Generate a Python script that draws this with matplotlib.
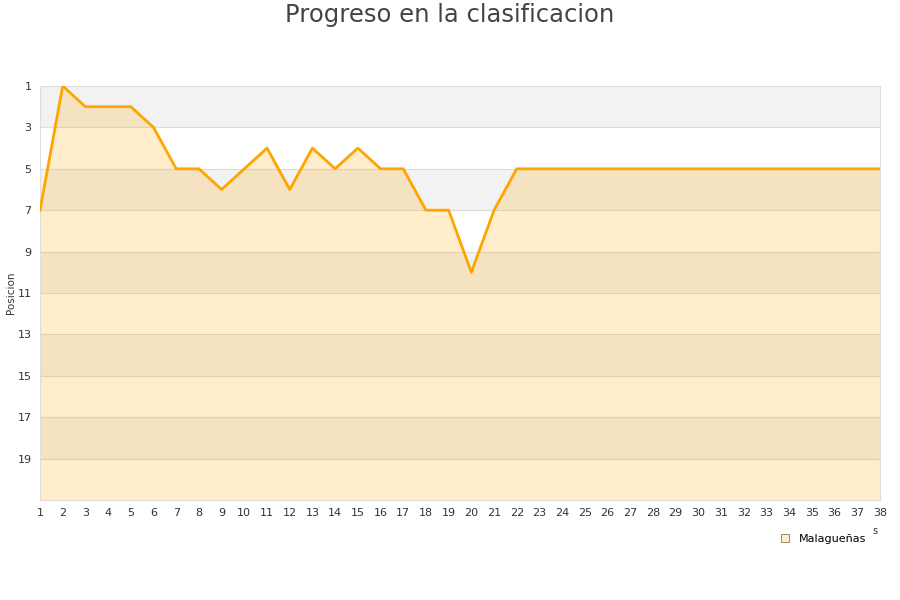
import matplotlib
matplotlib.use('Agg')
import matplotlib.pyplot as plt
from matplotlib.lines import Line2D

# Jornadas y posicion de Malaguenas
jornadas = list(range(1, 39))
posiciones = [7, 1, 2, 2, 2, 3, 5, 5, 6, 5, 4, 6, 4, 5, 4, 5, 5, 7, 7, 10,
              7, 5, 5, 5, 5, 5, 5, 5, 5, 5, 5, 5, 5, 5, 5, 5, 5, 5]
y_ticks = list(range(1, 21, 2))
equipo = 'Malagueñas'

fig = plt.figure(figsize=(9, 6), dpi=100)
ax = fig.add_axes([40 / 900, 100 / 600, 840 / 900, 414 / 600])

# Bandas alternas de fondo
for y0 in range(1, 21, 4):
    ax.axhspan(y0, y0 + 2, color='#f2f2f2', lw=0, zorder=0)
for yt in y_ticks[1:]:
    ax.axhline(yt, color='#dcdcdc', lw=0.8, zorder=1)

ax.fill_between(jornadas, posiciones, 21, color='#ffa500', alpha=0.2, lw=0, zorder=2)
ax.plot(jornadas, posiciones, color='#ffa500', lw=2, zorder=3)

ax.set_xlim(1, 38)
ax.set_ylim(21, 1)
ax.set_xticks(jornadas)
ax.set_yticks(y_ticks)
ax.tick_params(length=0, labelsize=8, colors='#333333', pad=6)
for s in ax.spines.values():
    s.set_color('#dddddd')

fig.text(11 / 900, 1 - 293 / 600, 'Posicion', rotation=90, ha='center', va='center',
         fontsize=7.5, color='#333333')
fig.text(0.5, 1 - 15 / 600, 'Progreso en la clasificacion', ha='center', va='center',
         fontsize=17.5, color='#444444')
fig.text(875 / 900, 1 - 531 / 600, 's', ha='center', va='center', fontsize=7, color='#333333')

handle = Line2D([], [], marker='s', ls='none', markersize=6,
                markerfacecolor='#ffecc9', markeredgecolor='#a08a60', markeredgewidth=0.7)
fig.legend([handle], [equipo], loc='center', bbox_to_anchor=(820 / 900, 1 - 539 / 600),
           frameon=False, fontsize=8, handletextpad=0.3)

plt.savefig('out.png')
